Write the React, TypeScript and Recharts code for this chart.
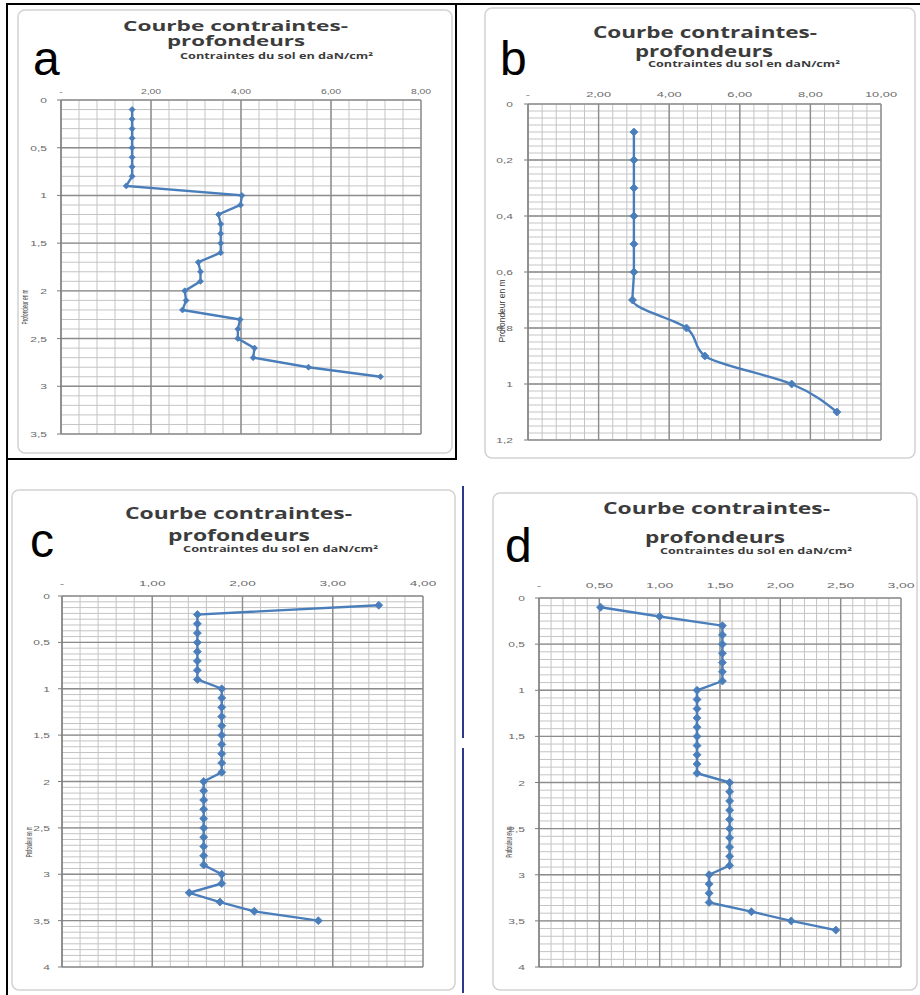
import React from 'react';
import { LineChart, Line, XAxis, YAxis, CartesianGrid } from 'recharts';

// a
const depthA = [0.1, 0.2, 0.3, 0.4, 0.5, 0.6, 0.7, 0.8, 0.9, 1.0, 1.1, 1.2, 1.3, 1.4, 1.5, 1.6, 1.7, 1.8, 1.9, 2.0, 2.1, 2.2, 2.3, 2.4, 2.5, 2.6, 2.7, 2.8, 2.9];
const stressA = [1.58, 1.58, 1.58, 1.58, 1.58, 1.58, 1.58, 1.58, 1.45, 4.02, 3.99, 3.5, 3.55, 3.55, 3.55, 3.55, 3.05, 3.1, 3.1, 2.75, 2.78, 2.7, 3.98, 3.93, 3.93, 4.3, 4.27, 5.5, 7.1];
const xTicksA = [0, 2, 4, 6, 8];
const yTicksA = [0, 0.5, 1, 1.5, 2, 2.5, 3, 3.5];

// b
const depthB = [0.1, 0.2, 0.3, 0.4, 0.5, 0.6, 0.7, 0.8, 0.9, 1.0, 1.1];
const stressB = [3.0, 3.0, 3.0, 3.0, 3.0, 3.0, 2.96, 4.49, 5.01, 7.47, 8.75];
const xTicksB = [0, 2, 4, 6, 8, 10];
const yTicksB = [0, 0.2, 0.4, 0.6, 0.8, 1, 1.2];

// c
const depthC = [0.1, 0.2, 0.3, 0.4, 0.5, 0.6, 0.7, 0.8, 0.9, 1.0, 1.1, 1.2, 1.3, 1.4, 1.5, 1.6, 1.7, 1.8, 1.9, 2.0, 2.1, 2.2, 2.3, 2.4, 2.5, 2.6, 2.7, 2.8, 2.9, 3.0, 3.1, 3.2, 3.3, 3.4, 3.5];
const stressC = [3.51, 1.5, 1.5, 1.5, 1.5, 1.5, 1.5, 1.5, 1.5, 1.77, 1.77, 1.77, 1.77, 1.77, 1.77, 1.77, 1.77, 1.77, 1.77, 1.57, 1.57, 1.57, 1.57, 1.57, 1.57, 1.57, 1.57, 1.57, 1.57, 1.77, 1.77, 1.41, 1.75, 2.13, 2.84];
const xTicksC = [0, 1, 2, 3, 4];
const yTicksC = [0, 0.5, 1, 1.5, 2, 2.5, 3, 3.5, 4];

// d
const depthD = [0.1, 0.2, 0.3, 0.4, 0.5, 0.6, 0.7, 0.8, 0.9, 1.0, 1.1, 1.2, 1.3, 1.4, 1.5, 1.6, 1.7, 1.8, 1.9, 2.0, 2.1, 2.2, 2.3, 2.4, 2.5, 2.6, 2.7, 2.8, 2.9, 3.0, 3.1, 3.2, 3.3, 3.4, 3.5, 3.6];
const stressD = [0.51, 1.0, 1.52, 1.52, 1.52, 1.52, 1.52, 1.52, 1.52, 1.31, 1.31, 1.31, 1.31, 1.31, 1.31, 1.31, 1.31, 1.31, 1.31, 1.58, 1.58, 1.58, 1.58, 1.58, 1.58, 1.58, 1.58, 1.58, 1.58, 1.41, 1.41, 1.41, 1.41, 1.76, 2.09, 2.46];
const xTicksD = [0, 0.5, 1, 1.5, 2, 2.5, 3];
const yTicksD = [0, 0.5, 1, 1.5, 2, 2.5, 3, 3.5, 4];

const TITLE_1 = 'Courbe contraintes-';
const TITLE_2 = 'profondeurs';
const X_TITLE = 'Contraintes du sol en daN/cm²';
const Y_TITLE = 'Profondeur en m';
const LETTERS = ['a', 'b', 'c', 'd'];

const BLUE = '#4a7ebb';

const steps = (max: number, step: number) =>
  Array.from({ length: Math.round(max / step) + 1 }, (_, i) => +(i * step).toFixed(4));

const panels = [
  {
    depth: depthA, stress: stressA, xTicks: xTicksA, yTicks: yTicksA, xStep: 0.4, yStep: 0.1,
    frame: [18, 10, 452, 453], plot: [61, 100, 421, 434], r: 3, curve: 'linear',
    xGap: 6, xScale: 1.3, yGap: 14, tSize: 14,
    letter: [33, 75], t1: [123, 31, 225], t2: [167, 46, 138], sub: [180, 59, 193], yt: [28, 307, 35],
  },
  {
    depth: depthB, stress: stressB, xTicks: xTicksB, yTicks: yTicksB, xStep: 0.4, yStep: 0.025,
    frame: [485, 8, 915, 458], plot: [528, 104, 881, 440], r: 4, curve: 'monotone',
    xGap: 7, xScale: 1.6, yGap: 15, tSize: 16,
    letter: [500, 75], t1: [593, 38, 224], t2: [635, 57, 138], sub: [648, 67, 192], yt: [505, 311, 63],
  },
  {
    depth: depthC, stress: stressC, xTicks: xTicksC, yTicks: yTicksC, xStep: 0.2, yStep: 0.0625,
    frame: [12, 490, 455, 990], plot: [62, 596, 423, 967], r: 4, curve: 'linear',
    xGap: 10, xScale: 1.7, yGap: 12, tSize: 16,
    letter: [30, 557], t1: [125, 519, 227], t2: [168, 541, 142], sub: [183, 552, 195], yt: [32, 842, 30],
  },
  {
    depth: depthD, stress: stressD, xTicks: xTicksD, yTicks: yTicksD, xStep: 0.1, yStep: 0.5 / 6,
    frame: [493, 493, 917, 990], plot: [539, 598, 901, 967], r: 4, curve: 'linear',
    xGap: 10, xScale: 1.75, yGap: 14, tSize: 16,
    letter: [505, 562], t1: [603, 514, 227], t2: [645, 543, 140], sub: [660, 554, 192], yt: [512, 842, 31],
  },
];

const fmtX = (v: number) => (v === 0 ? '-' : v.toFixed(2).replace('.', ','));
const fmtY = (v: number) => String(v).replace('.', ',');

function Panel({ p }: { p: any }) {
  const [fl, ft, fr, fb] = p.frame;
  const YW = 40;
  const XH = 20;
  const margin = {
    left: p.plot[0] - fl - YW,
    top: p.plot[1] - ft - XH,
    right: fr - p.plot[2],
    bottom: fb - p.plot[3],
  };
  const plotLeft = p.plot[0] - fl;
  const plotTop = p.plot[1] - ft;
  const xMax = p.xTicks[p.xTicks.length - 1];
  const yMax = p.yTicks[p.yTicks.length - 1];
  const data = p.depth.map((d: number, i: number) => ({ depth: d, stress: p.stress[i] }));

  const xTick = (t: any) => (
    <text
      transform={`translate(${t.x},${plotTop - p.xGap}) scale(${p.xScale},1)`}
      textAnchor="middle"
      fontSize={8}
      fontFamily="Liberation Sans"
      fill="#6a6a6a"
    >
      {fmtX(t.payload.value)}
    </text>
  );
  const yTick = (t: any) => (
    <text
      transform={`translate(${plotLeft - p.yGap},${t.y + 3}) scale(1.5,1)`}
      textAnchor="end"
      fontSize={8}
      fontFamily="Liberation Sans"
      fill="#6a6a6a"
    >
      {fmtY(t.payload.value)}
    </text>
  );
  const dot = (d: any) => {
    if (d.cx == null || d.cy == null) return <g key={d.index} />;
    const r = p.r;
    return (
      <path
        key={d.index}
        d={`M${d.cx},${d.cy - r}L${d.cx + r},${d.cy}L${d.cx},${d.cy + r}L${d.cx - r},${d.cy}Z`}
        fill={BLUE}
        stroke={BLUE}
        strokeWidth={0.8}
      />
    );
  };

  return (
    <div style={{ position: 'absolute', left: fl, top: ft }}>
      <LineChart width={fr - fl} height={fb - ft} data={data} layout="vertical" margin={margin}>
        <CartesianGrid
          verticalValues={steps(xMax, p.xStep)}
          horizontalValues={steps(yMax, p.yStep)}
          stroke="#c4c4c4"
          strokeWidth={1}
        />
        <CartesianGrid verticalValues={p.xTicks} horizontalValues={p.yTicks} stroke="#8c8c8c" strokeWidth={1.4} />
        <XAxis
          type="number"
          orientation="top"
          domain={[0, xMax]}
          ticks={p.xTicks}
          interval={0}
          height={XH}
          axisLine={false}
          tickLine={false}
          tick={xTick}
        />
        <YAxis
          type="number"
          dataKey="depth"
          domain={[0, yMax]}
          ticks={p.yTicks}
          interval={0}
          width={YW}
          tickSize={4}
          stroke="#7c7c7c"
          tick={yTick}
        />
        <Line
          dataKey="stress"
          type={p.curve}
          stroke={BLUE}
          strokeWidth={2.4}
          dot={dot}
          isAnimationActive={false}
        />
      </LineChart>
    </div>
  );
}

export default function App() {
  return (
    <div style={{ position: 'absolute', left: 0, top: 0, width: 920, height: 995, background: '#fff', overflow: 'hidden' }}>
      {panels.map((p, i) => (
        <Panel key={i} p={p} />
      ))}
      <svg width={920} height={995} style={{ position: 'absolute', left: 0, top: 0, pointerEvents: 'none' }}>
        {panels.map((p, i) => {
          const [fl, ft, fr, fb] = p.frame;
          return (
            <g key={i}>
              <rect x={fl} y={ft} width={fr - fl} height={fb - ft} rx={7} fill="none" stroke="#d2d2d2" strokeWidth={1.5} />
              <text x={p.letter[0]} y={p.letter[1]} fontSize={48} fontFamily="Liberation Sans" fill="#000">
                {LETTERS[i]}
              </text>
              <text x={p.t1[0]} y={p.t1[1]} textLength={p.t1[2]} lengthAdjust="spacingAndGlyphs" fontSize={p.tSize} fontWeight="bold" fontFamily="Open Sans" fill="#3c3c3c">
                {TITLE_1}
              </text>
              <text x={p.t2[0]} y={p.t2[1]} textLength={p.t2[2]} lengthAdjust="spacingAndGlyphs" fontSize={p.tSize} fontWeight="bold" fontFamily="Open Sans" fill="#3c3c3c">
                {TITLE_2}
              </text>
              <text x={p.sub[0]} y={p.sub[1]} textLength={p.sub[2]} lengthAdjust="spacingAndGlyphs" fontSize={8} fontWeight="bold" fontFamily="Open Sans" fill="#3c3c3c">
                {X_TITLE}
              </text>
              <text
                transform={`translate(${p.yt[0]},${p.yt[1]}) rotate(-90)`}
                x={-p.yt[2] / 2}
                y={0}
                textLength={p.yt[2]}
                lengthAdjust="spacingAndGlyphs"
                fontSize={8.5}
                fontFamily="Liberation Sans"
                fill="#3c3c3c"
              >
                {Y_TITLE}
              </text>
            </g>
          );
        })}
        <rect x={7} y={4} width={449} height={455} fill="none" stroke="#000" strokeWidth={2} />
        <line x1={7} y1={459} x2={7} y2={995} stroke="#000" strokeWidth={2} />
        <line x1={456} y1={4} x2={920} y2={4} stroke="#000" strokeWidth={2} />
        <line x1={463} y1={486} x2={463} y2={738} stroke="#2d3a8c" strokeWidth={2} />
        <line x1={463} y1={748} x2={463} y2={993} stroke="#2d3a8c" strokeWidth={2} />
      </svg>
    </div>
  );
}
